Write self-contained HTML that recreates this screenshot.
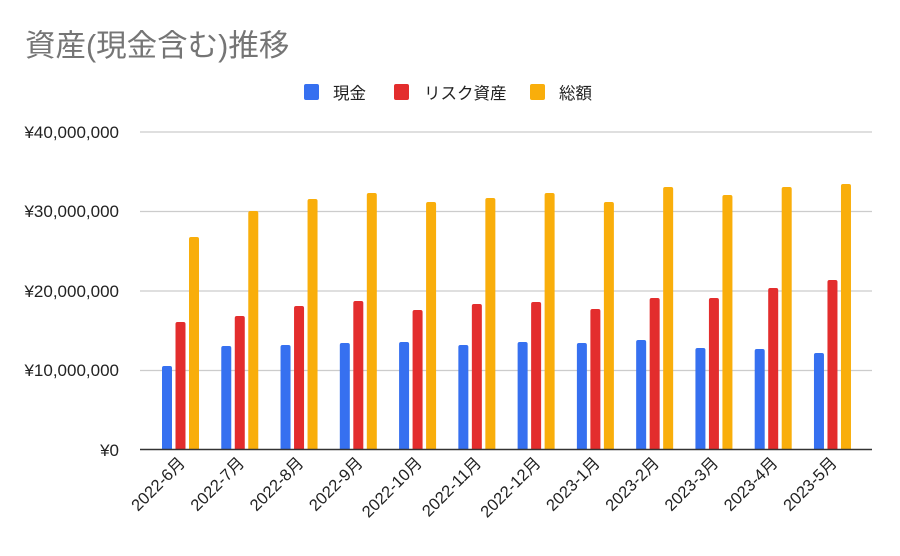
<!DOCTYPE html>
<html><head><meta charset="utf-8"><style>
body{margin:0;background:#fff;}
svg{display:block;font-family:"Liberation Sans","Noto Sans CJK JP",sans-serif;}
</style></head><body>
<svg width="900" height="556" viewBox="0 0 900 556" xmlns="http://www.w3.org/2000/svg">
<rect width="900" height="556" fill="#fff"/>
<text x="25" y="56" font-size="30.5" fill="#757575">資産(現金含む)推移</text>
<rect x="304" y="84" width="15" height="16" rx="2" fill="#3670f0"/>
<text x="333" y="99" font-size="16.5" fill="#222">現金</text>
<rect x="394" y="84" width="15" height="16" rx="2" fill="#e32d2d"/>
<text x="424" y="99" font-size="16.5" fill="#222">リスク資産</text>
<rect x="530" y="84" width="15" height="16" rx="2" fill="#f9ae0b"/>
<text x="559" y="99" font-size="16.5" fill="#222">総額</text>
<g stroke="#ccc" stroke-width="1.3">
<line x1="140" y1="132" x2="872" y2="132"/>
<line x1="140" y1="211.5" x2="872" y2="211.5"/>
<line x1="140" y1="291" x2="872" y2="291"/>
<line x1="140" y1="370.5" x2="872" y2="370.5"/>
</g>
<g font-size="17" fill="#222" text-anchor="end">
<text x="119" y="138">¥40,000,000</text>
<text x="119" y="217">¥30,000,000</text>
<text x="119" y="297">¥20,000,000</text>
<text x="119" y="376">¥10,000,000</text>
<text x="119" y="456">¥0</text>
</g>
<g id="bars"></g>
<line x1="140" y1="449.5" x2="872" y2="449.5" stroke="#333" stroke-width="1.5"/>
<g id="labels" font-size="16.5" fill="#222" text-anchor="end"></g>
<script>
var b=[366,346,345,343,342,345,342,343,340,348,349,353];
var r=[322,316,306,301,310,304,302,309,298,298,288,280];
var y=[237,211,199,193,202,198,193,202,187,195,187,184];
var L=["2022-6月","2022-7月","2022-8月","2022-9月","2022-10月","2022-11月","2022-12月","2023-1月","2023-2月","2023-3月","2023-4月","2023-5月"];
var ns="http://www.w3.org/2000/svg",g=document.getElementById("bars"),lg=document.getElementById("labels");
function bar(x,t,c){var e=document.createElementNS(ns,"path");e.setAttribute("d","M"+x+",449 V"+(t+2)+" Q"+x+","+t+" "+(x+2)+","+t+" H"+(x+8)+" Q"+(x+10)+","+t+" "+(x+10)+","+(t+2)+" V449 Z");e.setAttribute("fill",c);g.appendChild(e);}
for(var i=0;i<12;i++){var x0=162+i*59.27;bar(x0,b[i],"#3670f0");bar(x0+13.5,r[i],"#e32d2d");bar(x0+27,y[i],"#f9ae0b");
var cx=x0+24,cy=464;var t=document.createElementNS(ns,"text");t.setAttribute("x",cx);t.setAttribute("y",cy);t.setAttribute("transform","rotate(-45 "+cx+" "+cy+")");t.textContent=L[i];lg.appendChild(t);}
</script>
</svg>
</body></html>
